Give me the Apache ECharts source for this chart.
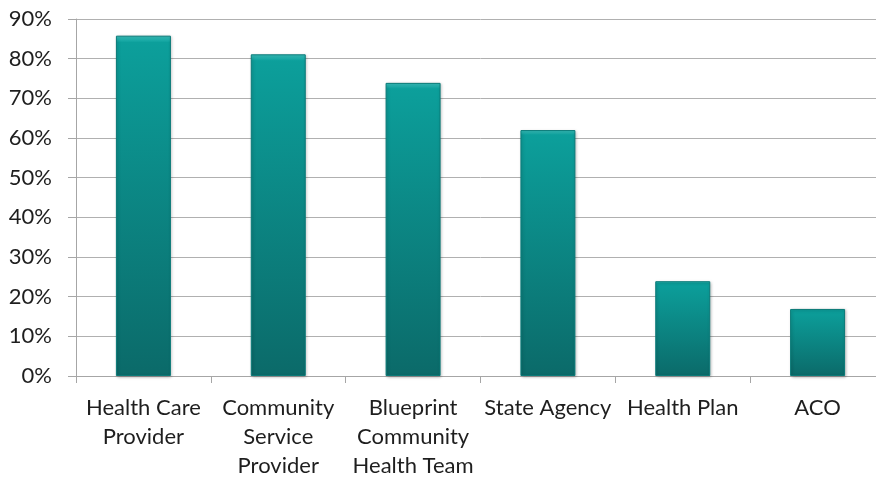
<!DOCTYPE html>
<html>
<head>
<meta charset="utf-8">
<script src="https://cdn.jsdelivr.net/npm/echarts@6/dist/echarts.min.js"></script>
<style>
  html, body { margin: 0; padding: 0; background: #fff; overflow: hidden; }
  #wrap { width: 876px; height: 480px; overflow: hidden; }
  /* the original plot runs a few pixels past the right edge, so draw wider and crop */
  #chart { width: 885px; height: 480px; }
</style>
</head>
<body>
<div id="wrap"><div id="chart"></div></div>
<script>
const categories = ['Health Care\nProvider', 'Community\nService\nProvider', 'Blueprint\nCommunity\nHealth Team', 'State Agency', 'Health Plan', 'ACO'];
const values = [85.8, 81.1, 73.9, 62.0, 23.9, 16.9];

var myChart = echarts.init(document.getElementById('chart'));
myChart.setOption({
  animation: false,
  grid: {left: 76, right: 0, top: 19, bottom: 104},
  xAxis: {
    type: 'category',
    data: categories,
    axisLine: {lineStyle: {color: '#a6a6a6'}},
    axisTick: {show: true, length: 7, lineStyle: {color: '#a6a6a6'}},
    axisLabel: {
      interval: 0,
      margin: 17,
      fontSize: 22,
      lineHeight: 29,
      fontFamily: 'Lato',
      color: '#1e1e1e'
    }
  },
  yAxis: {
    type: 'value',
    min: 0,
    max: 90,
    interval: 10,
    axisLine: {show: true, lineStyle: {color: '#a6a6a6'}},
    axisTick: {show: true, length: 8, lineStyle: {color: '#a6a6a6'}},
    splitLine: {lineStyle: {color: '#b0b0b0'}},
    axisLabel: {
      formatter: '{value}%',
      margin: 24,
      fontSize: 22,
      fontFamily: 'Lato',
      color: '#1e1e1e'
    }
  },
  series: [{
    type: 'bar',
    data: values,
    barWidth: 55,
    itemStyle: {
      color: new echarts.graphic.LinearGradient(0, 0, 0, 1, [
        {offset: 0, color: '#3cc6c2'},
        {offset: 0.02, color: '#0c9f9b'},
        {offset: 1, color: '#0b6a69'}
      ]),
      borderColor: '#0a7a78',
      borderWidth: 1,
      shadowColor: 'rgba(0,0,0,0.25)',
      shadowBlur: 3,
      shadowOffsetX: 1,
      shadowOffsetY: 1
    }
  }]
});
</script>
</body>
</html>
